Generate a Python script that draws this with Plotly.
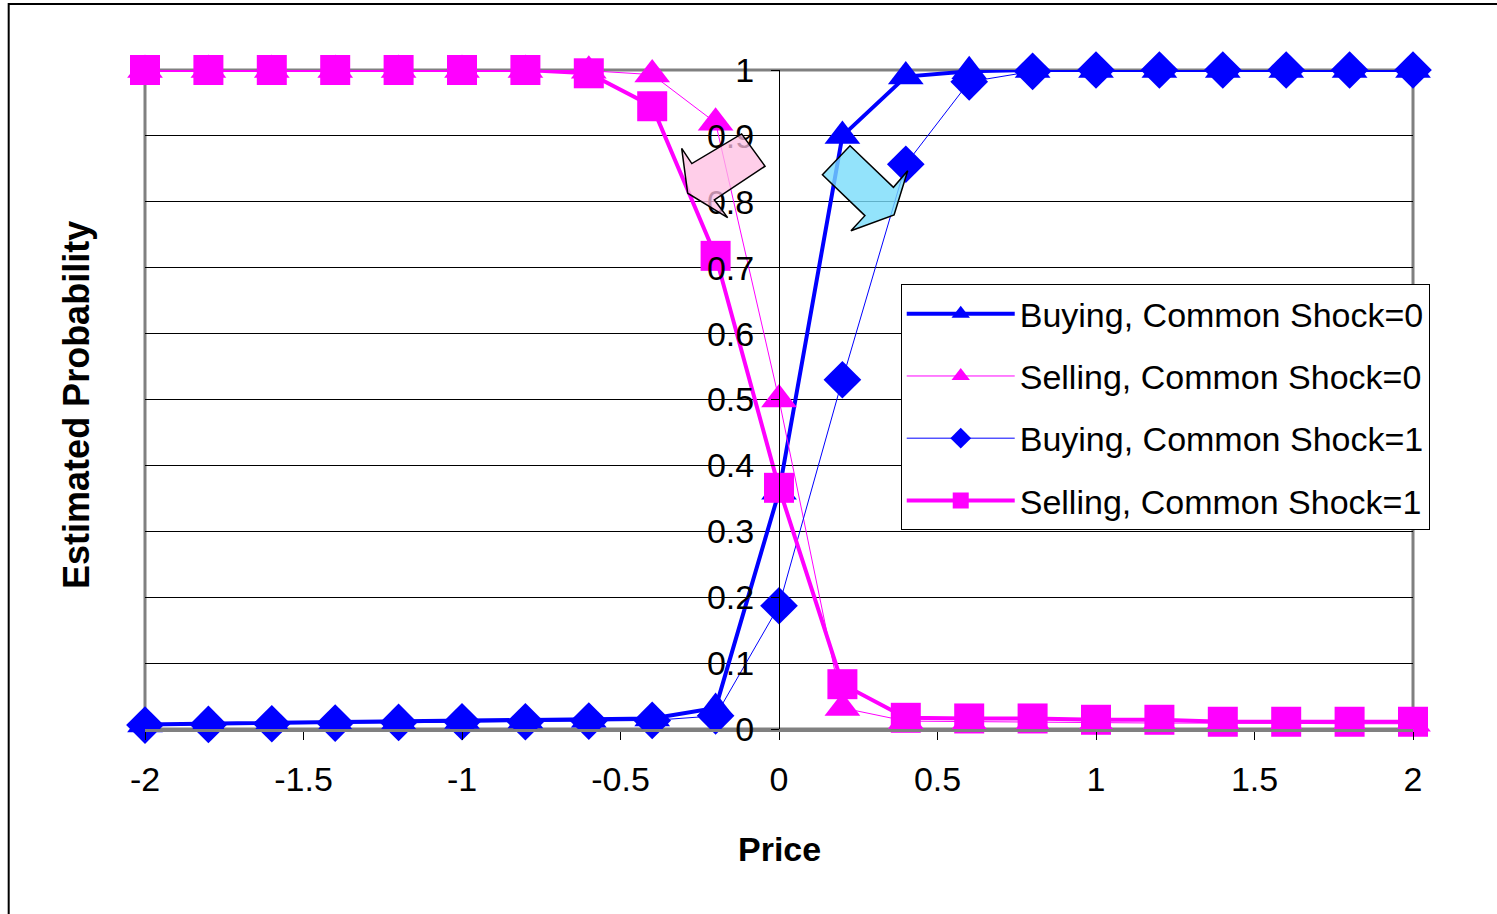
import plotly.graph_objects as go

price = [-2.0, -1.8, -1.6, -1.4, -1.2, -1.0, -0.8, -0.6, -0.4, -0.2, 0.0,
         0.2, 0.4, 0.6, 0.8, 1.0, 1.2, 1.4, 1.6, 1.8, 2.0]
buying_shock0 = [0.007, 0.008, 0.009, 0.010, 0.011, 0.012, 0.013, 0.014, 0.016, 0.032, 0.36,
                 0.90, 0.99, 0.998, 1.0, 1.0, 1.0, 1.0, 1.0, 1.0, 1.0]
selling_shock0 = [1.0, 1.0, 1.0, 1.0, 1.0, 1.0, 1.0, 0.999, 0.993, 0.92, 0.50,
                  0.032, 0.012, 0.011, 0.010, 0.010, 0.009, 0.009, 0.008, 0.008, 0.008]
buying_shock1 = [0.006, 0.007, 0.008, 0.009, 0.010, 0.011, 0.011, 0.012, 0.013, 0.020, 0.187,
                 0.53, 0.857, 0.982, 0.998, 1.0, 1.0, 1.0, 1.0, 1.0, 1.0]
selling_shock1 = [1.0, 1.0, 1.0, 1.0, 1.0, 1.0, 1.0, 0.995, 0.945, 0.718, 0.366,
                  0.068, 0.017, 0.016, 0.016, 0.014, 0.014, 0.011, 0.011, 0.011, 0.011]

series_names = ["Buying, Common Shock=0", "Selling, Common Shock=0",
                "Buying, Common Shock=1", "Selling, Common Shock=1"]
x_tick_vals = [-2, -1.5, -1, -0.5, 0, 0.5, 1, 1.5, 2]
x_tick_text = ["-2", "-1.5", "-1", "-0.5", "0", "0.5", "1", "1.5", "2"]
y_tick_vals = [0, 0.1, 0.2, 0.3, 0.4, 0.5, 0.6, 0.7, 0.8, 0.9, 1.0]
y_tick_text = ["0", "0.1", "0.2", "0.3", "0.4", "0.5", "0.6", "0.7", "0.8", "0.9", "1"]

BLUE = "#0000FF"
MAGENTA = "#FF00FF"
FONT = "Arial, Liberation Sans, sans-serif"

fig = go.Figure()
styles = [
    (buying_shock0, BLUE, 4, "triangle-up", 31),
    (selling_shock0, MAGENTA, 1, "triangle-up", 31),
    (buying_shock1, BLUE, 1, "diamond", 29),
    (selling_shock1, MAGENTA, 4, "square", 30),
]
for i, (ys, col, lw, sym, ms) in enumerate(styles):
    fig.add_trace(go.Scatter(
        x=price, y=ys, mode="lines+markers", name=series_names[i],
        legendgroup=f"g{i}",
        line=dict(color=col, width=lw),
        marker=dict(symbol=sym, size=ms, color=col, line=dict(color=col, width=0)),
        cliponaxis=False,
    ))

# block arrows (data coordinates)
pink_arrow = [(-0.118, 0.903), (-0.044, 0.854), (-0.204, 0.803), (-0.162, 0.776),
              (-0.288, 0.813), (-0.307, 0.881), (-0.275, 0.858)]
cyan_arrow = [(0.224, 0.885), (0.361, 0.822), (0.406, 0.847), (0.363, 0.780),
              (0.227, 0.756), (0.271, 0.779), (0.137, 0.841)]


def poly(pts):
    return "M " + " L ".join(f"{x},{y}" for x, y in pts) + " Z"


shapes = [
    # outer chart frame
    dict(type="rect", xref="paper", yref="paper", x0=-0.1075, x1=1.08, y0=-0.3, y1=1.1002,
         line=dict(color="black", width=2), layer="below"),
    # plot area border (grey)
    dict(type="rect", xref="paper", yref="paper", x0=0, x1=1, y0=0, y1=1,
         line=dict(color="#808080", width=3), layer="between"),
    dict(type="path", xref="x", yref="y", path=poly(pink_arrow),
         fillcolor="rgba(255,190,225,0.75)", line=dict(color="black", width=1.5), layer="above"),
    dict(type="path", xref="x", yref="y", path=poly(cyan_arrow),
         fillcolor="rgba(120,220,250,0.8)", line=dict(color="black", width=1.5), layer="above"),
]

fig.update_layout(
    width=1497, height=914,
    margin=dict(l=145, r=84, t=70, b=185),
    paper_bgcolor="white", plot_bgcolor="white",
    font=dict(family=FONT, size=34, color="black"),
    showlegend=True,
    legend=dict(x=0.596, y=0.675, xanchor="left", yanchor="top",
                bgcolor="white", bordercolor="black", borderwidth=1,
                font=dict(size=34), tracegroupgap=15, itemwidth=108,
                traceorder="grouped"),
    xaxis=dict(range=[-2, 2], tickvals=x_tick_vals, ticktext=x_tick_text,
               showgrid=False, zeroline=False, showline=True, linecolor="#808080",
               linewidth=3, ticks="outside", ticklen=8, tickcolor="black", tickwidth=1,
               ticklabelstandoff=10, tickfont=dict(size=34)),
    yaxis=dict(range=[0, 1], tickvals=y_tick_vals, ticktext=y_tick_text,
               anchor="free", position=0.5, side="left",
               showgrid=True, gridcolor="black", gridwidth=1, zeroline=False,
               showline=True, linecolor="black", linewidth=1,
               ticks="outside", ticklen=8, tickcolor="black", tickwidth=1,
               ticklabelstandoff=10, tickfont=dict(size=34)),
    shapes=shapes,
    annotations=[
        dict(text="<b>Price</b>", xref="paper", yref="paper", x=0.5, y=-0.182,
             xanchor="center", yanchor="middle", showarrow=False, font=dict(size=34)),
        dict(text="<b>Estimated Probability</b>", xref="paper", yref="paper",
             x=-0.0535, y=0.492, textangle=-90, xanchor="center", yanchor="middle",
             showarrow=False, font=dict(size=36)),
    ],
)

fig.write_html("out.html")
